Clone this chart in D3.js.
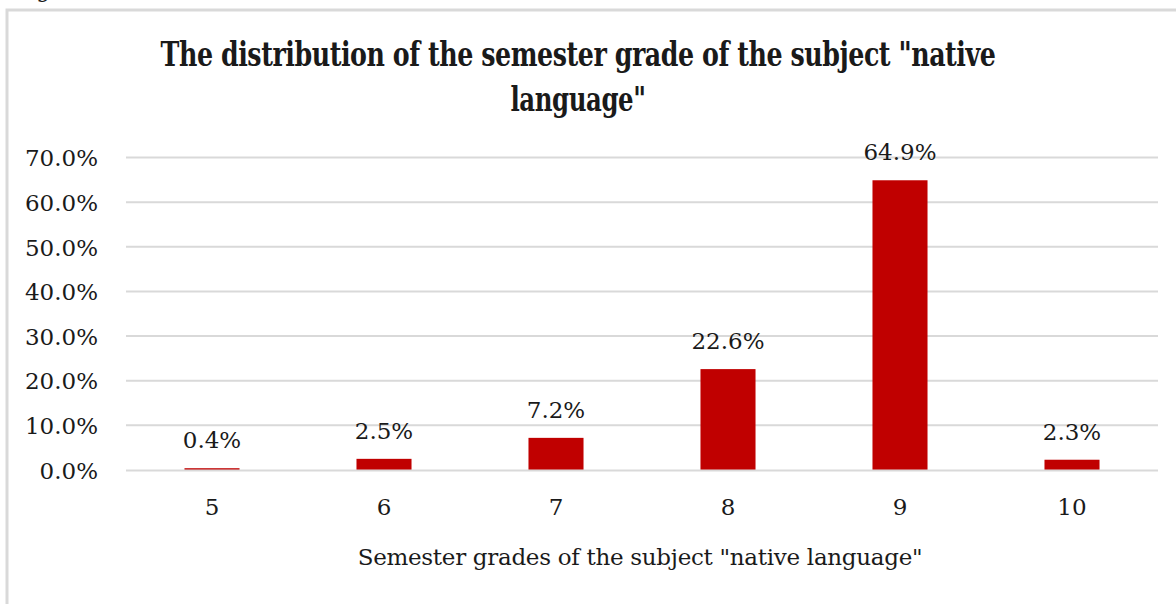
<!DOCTYPE html>
<html>
<head>
<meta charset="utf-8">
<script src="https://cdn.jsdelivr.net/npm/d3@7"></script>
<style>
  html, body { margin: 0; padding: 0; background: #fff; }
  svg { display: block; }
  text { font-family: "DejaVu Serif", "Liberation Serif", serif; fill: #1a1a1a; }
</style>
</head>
<body>
<svg id="chart" width="1176" height="604"></svg>
<script>
// Semester grade distribution for the subject "native language"
const grades = ["5", "6", "7", "8", "9", "10"];
const shares = [0.4, 2.5, 7.2, 22.6, 64.9, 2.3];
const yTicks = [0, 10, 20, 30, 40, 50, 60, 70];
const titleLines = ["The distribution of the semester grade of the subject \"native", "language\""];
const xAxisTitle = "Semester grades of the subject \"native language\"";

const svg = d3.select("#chart");
const W = 1176, H = 604;
const plot = { left: 126, right: 1158, top: 157.5, bottom: 470 };

// Frame around the chart area (continues past the page edge)
svg.append("rect")
  .attr("x", 7).attr("y", 10)
  .attr("width", W + 20).attr("height", H + 20)
  .attr("fill", "none").attr("stroke", "#d9d9d9").attr("stroke-width", 3);

// Part of the figure caption above the frame
svg.append("text")
  .attr("x", 14).attr("y", -3)
  .attr("font-size", 22)
  .text("Fig");

const x = d3.scaleBand()
  .domain(grades)
  .range([plot.left, plot.right])
  .paddingInner(0.68)
  .paddingOuter(0.34);

const y = d3.scaleLinear()
  .domain([0, 70])
  .range([plot.bottom, plot.top]);

// Horizontal gridlines (baseline drawn later, over the bars)
svg.append("g")
  .selectAll("line")
  .data(yTicks.filter(d => d !== 0))
  .join("line")
  .attr("x1", plot.left).attr("x2", plot.right)
  .attr("y1", d => y(d)).attr("y2", d => y(d))
  .attr("stroke", "#d9d9d9").attr("stroke-width", 2);

// Y-axis tick labels
const yAxis = d3.axisLeft(y)
  .tickValues(yTicks)
  .tickFormat(d => d3.format(".1f")(d) + "%")
  .tickSize(0)
  .tickPadding(28);
const yG = svg.append("g").attr("transform", `translate(${plot.left},0)`).call(yAxis);
yG.select(".domain").remove();
yG.selectAll("text")
  .attr("font-size", 23)
  .attr("font-family", "DejaVu Serif, serif")
  .attr("fill", "#1a1a1a")
  .attr("dy", "0.36em");

const rows = grades.map((g, i) => ({ g, v: shares[i] }));

// Bars
svg.append("g")
  .selectAll("rect")
  .data(rows)
  .join("rect")
  .attr("x", d => x(d.g))
  .attr("width", x.bandwidth())
  .attr("y", d => y(d.v))
  .attr("height", d => y(0) - y(d.v))
  .attr("fill", "#c00000");

// Category axis baseline
svg.append("line")
  .attr("x1", plot.left).attr("x2", plot.right)
  .attr("y1", y(0) + 0.5).attr("y2", y(0) + 0.5)
  .attr("stroke", "#d9d9d9").attr("stroke-width", 2);

// Value labels above each bar
svg.append("g")
  .selectAll("text")
  .data(rows)
  .join("text")
  .attr("x", d => x(d.g) + x.bandwidth() / 2)
  .attr("y", d => y(d.v) - 20)
  .attr("text-anchor", "middle")
  .attr("font-size", 23)
  .text(d => d3.format(".1f")(d.v) + "%");

// X-axis category labels
const xAxis = d3.axisBottom(x).tickSize(0).tickPadding(29);
const xG = svg.append("g").attr("transform", `translate(0,${plot.bottom})`).call(xAxis);
xG.select(".domain").remove();
xG.selectAll("text")
  .attr("font-size", 23)
  .attr("font-family", "DejaVu Serif, serif")
  .attr("fill", "#1a1a1a");

// Chart title (two lines, bold, horizontally condensed)
const titleWidths = [835, 135];
svg.append("g")
  .selectAll("text")
  .data(titleLines)
  .join("text")
  .attr("x", 0)
  .attr("y", 0)
  .attr("text-anchor", "middle")
  .attr("font-family", "Liberation Serif, serif")
  .attr("font-weight", "bold")
  .attr("font-size", 34)
  .attr("letter-spacing", -0.6)
  .text(d => d)
  .each(function (d, i) {
    const sx = titleWidths[i] / this.getComputedTextLength();
    d3.select(this).attr("transform", `translate(578,${66 + i * 45}) scale(${sx.toFixed(4)},1)`);
  });

// X-axis title
svg.append("text")
  .attr("x", 640)
  .attr("y", 565)
  .attr("text-anchor", "middle")
  .attr("font-family", "Liberation Serif, serif")
  .attr("font-size", 23)
  .text(xAxisTitle)
  .each(function () {
    const natural = this.getComputedTextLength();
    const spacing = (565 - natural) / Math.max(1, xAxisTitle.length - 1);
    d3.select(this).attr("letter-spacing", spacing.toFixed(2));
  });
</script>
</body>
</html>
